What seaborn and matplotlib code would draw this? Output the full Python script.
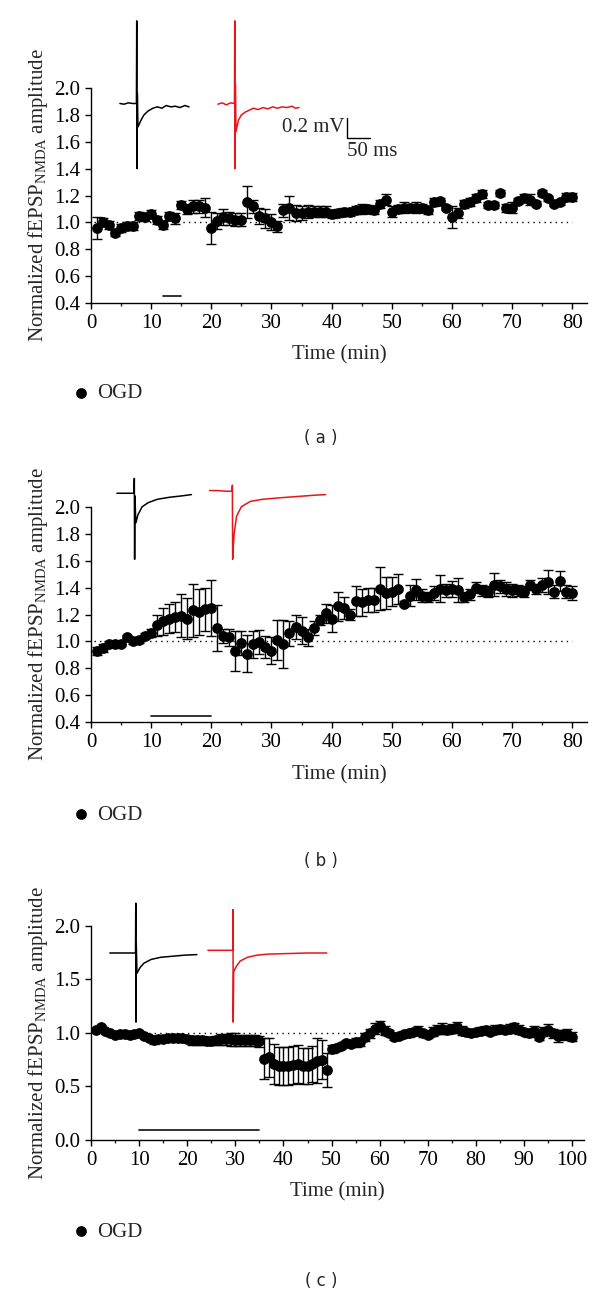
import matplotlib
matplotlib.use("Agg")
import matplotlib.pyplot as plt
import numpy as np
import pandas as pd
import seaborn as sns

# ------------------------------------------------------------
# DATA
# ------------------------------------------------------------
time_a = list(range(1, 81))
amp_a = [0.96, 1.00, 0.98, 0.92, 0.96, 0.97, 0.97, 1.05, 1.04, 1.06,
         1.02, 0.98, 1.05, 1.03, 1.13, 1.10, 1.12, 1.12, 1.11, 0.96,
         1.01, 1.04, 1.03, 1.02, 1.02, 1.15, 1.12, 1.05, 1.03, 1.00,
         0.97, 1.09, 1.11, 1.07, 1.07, 1.08, 1.08, 1.08, 1.08, 1.06,
         1.07, 1.08, 1.08, 1.09, 1.10, 1.10, 1.09, 1.14, 1.17, 1.08,
         1.10, 1.11, 1.11, 1.11, 1.11, 1.09, 1.15, 1.16, 1.11, 1.04,
         1.07, 1.14, 1.15, 1.18, 1.21, 1.13, 1.13, 1.22, 1.11, 1.11,
         1.16, 1.18, 1.17, 1.14, 1.22, 1.18, 1.14, 1.15, 1.19, 1.19]
err_a = [0.08, 0.03, 0.03, 0.02, 0.03, 0.03, 0.03, 0.03, 0.03, 0.03,
         0.03, 0.03, 0.03, 0.04, 0.03, 0.04, 0.05, 0.05, 0.07, 0.12,
         0.06, 0.06, 0.05, 0.05, 0.05, 0.12, 0.05, 0.06, 0.07, 0.06,
         0.04, 0.05, 0.09, 0.06, 0.05, 0.05, 0.04, 0.04, 0.04, 0.03,
         0.03, 0.03, 0.03, 0.03, 0.04, 0.03, 0.03, 0.03, 0.04, 0.04,
         0.03, 0.04, 0.03, 0.04, 0.03, 0.03, 0.03, 0.02, 0.02, 0.08,
         0.04, 0.03, 0.03, 0.03, 0.03, 0.02, 0.02, 0.02, 0.03, 0.04,
         0.02, 0.03, 0.04, 0.02, 0.02, 0.02, 0.02, 0.02, 0.03, 0.03]

time_b = list(range(1, 81))
amp_b = [0.93, 0.95, 0.98, 0.985, 0.985, 1.03, 1.00, 1.01, 1.04, 1.06,
         1.12, 1.15, 1.17, 1.18, 1.19, 1.17, 1.23, 1.22, 1.24, 1.25,
         1.10, 1.04, 1.03, 0.93, 0.99, 0.91, 0.98, 0.995, 0.96, 0.93,
         1.01, 0.98, 1.06, 1.11, 1.08, 1.03, 1.10, 1.16, 1.21, 1.17,
         1.26, 1.25, 1.20, 1.30, 1.29, 1.31, 1.31, 1.39, 1.36, 1.37,
         1.39, 1.28, 1.34, 1.385, 1.34, 1.33, 1.36, 1.39, 1.38, 1.39,
         1.38, 1.33, 1.35, 1.40, 1.38, 1.37, 1.42, 1.41, 1.39, 1.38,
         1.38, 1.37, 1.42, 1.39, 1.42, 1.44, 1.37, 1.45, 1.37, 1.36]
err_b = [0.03, 0.03, 0.02, 0.02, 0.02, 0.02, 0.02, 0.02, 0.02, 0.03,
         0.08, 0.10, 0.11, 0.11, 0.16, 0.15, 0.20, 0.17, 0.16, 0.21,
         0.17, 0.05, 0.06, 0.15, 0.09, 0.14, 0.10, 0.09, 0.08, 0.10,
         0.15, 0.18, 0.09, 0.09, 0.10, 0.06, 0.05, 0.04, 0.07, 0.10,
         0.11, 0.08, 0.04, 0.11, 0.10, 0.09, 0.09, 0.16, 0.12, 0.11,
         0.11, 0.02, 0.08, 0.08, 0.05, 0.04, 0.05, 0.10, 0.05, 0.06,
         0.09, 0.04, 0.04, 0.04, 0.04, 0.04, 0.085, 0.05, 0.05, 0.05,
         0.04, 0.04, 0.04, 0.04, 0.05, 0.09, 0.05, 0.075, 0.05, 0.05]

time_c = list(range(1, 101))
amp_c = [1.025, 1.05, 1.015, 0.995, 0.98, 0.985, 0.985, 0.98, 0.99, 1.00,
         0.97, 0.95, 0.93, 0.94, 0.94, 0.95, 0.95, 0.955, 0.95, 0.94,
         0.93, 0.93, 0.93, 0.925, 0.925, 0.93, 0.94, 0.94, 0.94, 0.935,
         0.93, 0.93, 0.93, 0.93, 0.92, 0.76, 0.77, 0.71, 0.69, 0.69,
         0.69, 0.70, 0.71, 0.69, 0.69, 0.71, 0.74, 0.75, 0.65, 0.85,
         0.86, 0.875, 0.905, 0.90, 0.91, 0.915, 0.96, 0.995, 1.04, 1.065,
         1.02, 1.00, 0.96, 0.97, 0.99, 0.995, 1.01, 1.02, 0.995, 0.98,
         1.01, 1.03, 1.04, 1.025, 1.04, 1.05, 1.02, 1.01, 1.00, 1.01,
         1.02, 1.025, 1.01, 1.03, 1.04, 1.025, 1.04, 1.05, 1.03, 1.01,
         0.995, 1.02, 0.965, 1.01, 1.03, 0.995, 0.97, 0.98, 0.99, 0.965]
err_c = [0.02, 0.02, 0.02, 0.02, 0.02, 0.02, 0.02, 0.02, 0.02, 0.02,
         0.02, 0.02, 0.03, 0.03, 0.03, 0.03, 0.03, 0.03, 0.03, 0.03,
         0.04, 0.04, 0.04, 0.04, 0.04, 0.04, 0.05, 0.05, 0.06, 0.06,
         0.05, 0.05, 0.05, 0.05, 0.05, 0.19, 0.18, 0.19, 0.18, 0.18,
         0.18, 0.18, 0.18, 0.17, 0.17, 0.17, 0.21, 0.18, 0.16, 0.04,
         0.03, 0.03, 0.03, 0.03, 0.04, 0.04, 0.04, 0.04, 0.05, 0.05,
         0.04, 0.03, 0.03, 0.03, 0.03, 0.03, 0.03, 0.04, 0.03, 0.03,
         0.04, 0.04, 0.05, 0.04, 0.04, 0.05, 0.04, 0.03, 0.03, 0.03,
         0.03, 0.04, 0.03, 0.04, 0.03, 0.03, 0.04, 0.04, 0.04, 0.03,
         0.03, 0.04, 0.03, 0.04, 0.05, 0.04, 0.06, 0.05, 0.05, 0.04]

# OGD application bars (start, end, level)
ogd_a = [12, 15, 0.45]
ogd_b = [10, 20, 0.45]
ogd_c = [10, 35, 0.09]

# representative traces (time axis units, amplitude axis units)
trace_a_black_t = [4.8, 5.5, 6.2, 7.0, 7.55, 7.6, 7.65, 7.7, 7.8, 8.3, 8.8, 9.5, 10.3,
                   11.0, 11.8, 12.5, 13.3, 14.0, 14.8, 15.6, 16.3]
trace_a_black_v = [1.885, 1.88, 1.89, 1.885, 1.885, 2.50, 1.40, 1.96, 1.71, 1.76, 1.80,
                   1.83, 1.85, 1.86, 1.85, 1.87, 1.86, 1.865, 1.855, 1.87, 1.86]
trace_a_red_t = [21.1, 21.8, 22.5, 23.2, 23.85, 23.9, 23.95, 24.0, 24.1, 24.5, 25.0,
                 25.6, 26.3, 27.0, 27.8, 28.6, 29.4, 30.2, 31.0, 31.8, 32.6, 33.4,
                 34.0, 34.6]
trace_a_red_v = [1.88, 1.89, 1.875, 1.89, 1.885, 2.50, 1.40, 2.03, 1.675, 1.76, 1.80,
                 1.82, 1.835, 1.85, 1.84, 1.855, 1.845, 1.86, 1.85, 1.86, 1.855, 1.865,
                 1.85, 1.855]
trace_b_black_t = [4.3, 7.15, 7.2, 7.25, 7.3, 7.45, 7.8, 8.5, 9.5, 11.0, 13.0, 15.0, 16.7]
trace_b_black_v = [2.10, 2.10, 2.21, 1.61, 2.08, 1.88, 1.94, 2.00, 2.03, 2.055, 2.07,
                   2.08, 2.09]
trace_b_red_t = [19.7, 21.0, 22.5, 23.45, 23.5, 23.55, 23.65, 23.8, 24.2, 25.0, 26.5,
                 28.5, 31.0, 34.0, 37.0, 39.0]
trace_b_red_v = [2.12, 2.12, 2.115, 2.115, 2.16, 1.61, 1.70, 1.80, 1.93, 2.00, 2.04,
                 2.055, 2.065, 2.075, 2.085, 2.09]
trace_c_black_t = [3.9, 9.25, 9.3, 9.35, 9.4, 9.55, 10.2, 11.0, 12.5, 14.5, 17.0, 19.5, 22.0]
trace_c_black_v = [1.745, 1.745, 2.21, 1.10, 1.84, 1.556, 1.61, 1.65, 1.685, 1.705,
                   1.715, 1.725, 1.73]
trace_c_red_t = [24.3, 29.45, 29.5, 29.55, 29.65, 30.2, 31.0, 32.5, 34.5, 37.0, 41.0,
                 45.0, 49.0]
trace_c_red_v = [1.77, 1.77, 2.15, 1.10, 1.57, 1.62, 1.67, 1.705, 1.725, 1.735, 1.74,
                 1.745, 1.745]

# scale bar of panel (a): corner x, top y, bottom y, right x
scalebar_a = [42.6, 1.78, 1.63, 46.4]

# ------------------------------------------------------------
# STYLE
# ------------------------------------------------------------
sns.set_style("ticks")
plt.rcParams["font.family"] = ["Liberation Serif", "DejaVu Serif"]
plt.rcParams["mathtext.default"] = "regular"

TRACE_RED = "#e8151b"
FS = 15

fig = plt.figure(figsize=(6.0, 12.95), dpi=100)

panels = [
    dict(rect=[0.1517, 0.766, 0.827, 0.166], t=time_a, y=amp_a, e=err_a, ogd=ogd_a,
         ylim=(0.4, 2.0), yticks=np.arange(0.4, 2.01, 0.2), xlim=(0, 82.5),
         xticks=range(0, 81, 10), xminor=range(5, 80, 10), dot_end=80,
         traces=[(trace_a_black_t, trace_a_black_v, "black"),
                 (trace_a_red_t, trace_a_red_v, TRACE_RED)],
         label="( a )", label_y=0.655, leg_y=-0.42),
    dict(rect=[0.1517, 0.4422, 0.827, 0.1665], t=time_b, y=amp_b, e=err_b, ogd=ogd_b,
         ylim=(0.4, 2.0), yticks=np.arange(0.4, 2.01, 0.2), xlim=(0, 82.5),
         xticks=range(0, 81, 10), xminor=range(5, 80, 10), dot_end=80,
         traces=[(trace_b_black_t, trace_b_black_v, "black"),
                 (trace_b_red_t, trace_b_red_v, TRACE_RED)],
         label="( b )", label_y=0.328, leg_y=-0.43),
    dict(rect=[0.1517, 0.1197, 0.822, 0.1655], t=time_c, y=amp_c, e=err_c, ogd=ogd_c,
         ylim=(0.0, 2.0), yticks=np.arange(0.0, 2.01, 0.5), xlim=(0, 102.5),
         xticks=range(0, 101, 10), xminor=range(5, 100, 10), dot_end=100,
         traces=[(trace_c_black_t, trace_c_black_v, "black"),
                 (trace_c_red_t, trace_c_red_v, TRACE_RED)],
         label="( c )", label_y=0.004, leg_y=-0.43),
]

for p in panels:
    ax = fig.add_axes(p["rect"])
    df = pd.DataFrame({"time": p["t"], "amp": p["y"], "err": p["e"]})

    # baseline reference
    ax.plot([0.5, p["dot_end"]], [1.0, 1.0], linestyle=(0, (1, 3)), color="black",
            linewidth=1.0, zorder=1)

    ax.errorbar(df["time"], df["amp"], yerr=df["err"], fmt="none", ecolor="black",
                elinewidth=1.0, capsize=3.5, capthick=1.0, zorder=2)
    sns.scatterplot(data=df, x="time", y="amp", ax=ax, color="black", s=60,
                    edgecolor="black", linewidth=0, label="OGD", zorder=3)

    # OGD application bar
    ax.plot(p["ogd"][:2], [p["ogd"][2], p["ogd"][2]], color="#222222", linewidth=1.3)

    for tt, vv, col in p["traces"]:
        ax.plot(tt, vv, color=col, linewidth=1.1, clip_on=False, zorder=4)

    ax.set_xlim(*p["xlim"])
    ax.set_ylim(*p["ylim"])
    ax.set_xticks(list(p["xticks"]))
    ax.set_xticks(list(p["xminor"]), minor=True)
    ax.set_yticks(p["yticks"])
    ax.set_yticklabels([f"{v:.1f}" for v in p["yticks"]])
    ax.tick_params(axis="both", which="major", direction="out", length=4, width=1.0,
                   labelsize=FS, colors="black", pad=4)
    ax.tick_params(axis="x", which="minor", direction="out", length=2.5, width=1.0)
    for side in ("top", "right"):
        ax.spines[side].set_visible(False)
    for side in ("left", "bottom"):
        ax.spines[side].set_linewidth(1.0)
        ax.spines[side].set_color("black")

    ax.set_xlabel("Time (min)", fontsize=FS, labelpad=9)
    ax.set_ylabel("Normalized fEPSP$_{NMDA}$ amplitude", fontsize=FS, labelpad=3)

    ax.legend(loc="center left", bbox_to_anchor=(-0.06, p["leg_y"]), frameon=False,
              fontsize=FS, handletextpad=0.2, handlelength=1.1, borderaxespad=0)

    fig.text(0.535, p["label_y"], p["label"], ha="center", va="bottom", fontsize=12,
             family="DejaVu Sans")

# scale bar for the traces in panel (a)
ax_a = fig.axes[0]
sx, sy_top, sy_bot, sx_end = scalebar_a
ax_a.plot([sx, sx, sx_end], [sy_top, sy_bot, sy_bot], color="black", linewidth=1.0,
          clip_on=False)
ax_a.text(sx - 0.4, (sy_top + sy_bot) / 2, "0.2 mV", ha="right", va="center", fontsize=FS)
ax_a.text(sx, sy_bot - 0.03, "50 ms", ha="left", va="top", fontsize=FS)

fig.savefig("out.png", dpi=100)
